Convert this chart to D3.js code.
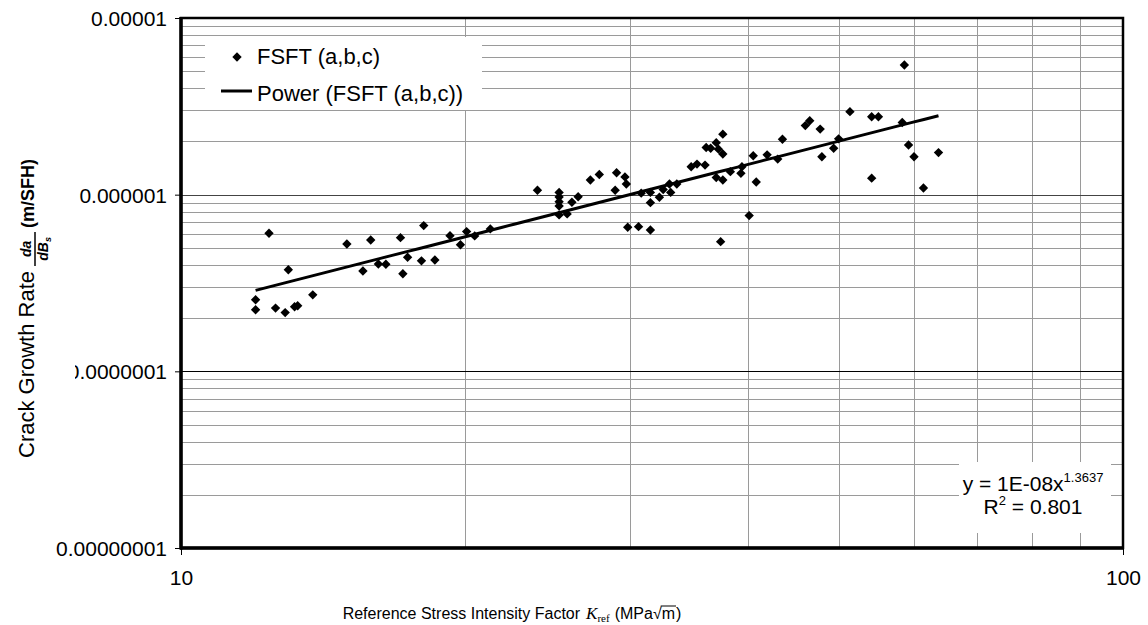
<!DOCTYPE html>
<html>
<head>
<meta charset="utf-8">
<script src="https://cdn.jsdelivr.net/npm/d3@7"></script>
<style>
  html, body { margin: 0; padding: 0; background: #fff; }
  svg { display: block; }
  text { fill: #000; }
</style>
</head>
<body>
<svg id="chart" width="1148" height="625"></svg>
<script>
// --- data ---
const kRef = [12.0, 12.0, 12.4, 12.6, 12.9, 13.0, 13.2, 13.3, 13.8, 15.0,
  15.6, 15.9, 16.2, 16.5, 17.1, 17.2, 17.4, 18.0, 18.1, 18.6,
  19.3, 19.8, 20.1, 20.5, 21.3, 23.9, 25.2, 25.2, 25.2, 25.2,
  25.2, 25.7, 26.0, 26.4, 27.2, 27.8, 28.9, 29.0, 29.6, 29.7,
  29.8, 30.6, 30.8, 31.5, 31.5, 31.5, 32.2, 32.5, 33.0, 33.1,
  33.6, 34.8, 35.3, 36.0, 36.1, 36.5, 37.0, 37.2, 37.6, 37.6,
  37.0, 37.6, 38.3, 37.4, 39.3, 39.4, 40.1, 40.5, 40.8, 41.9,
  43.0, 43.5, 46.0, 46.5, 47.7, 47.9, 49.3, 49.9, 51.3, 54.1,
  54.1, 55.0, 58.3, 58.6, 59.2, 60.0, 61.4, 63.7];
const growthRate = [2.54e-7, 2.23e-7, 6.05e-7, 2.28e-7, 2.15e-7, 3.76e-7, 2.32e-7, 2.35e-7, 2.71e-7, 5.26e-7,
  3.70e-7, 5.54e-7, 4.05e-7, 4.04e-7, 5.71e-7, 3.57e-7, 4.42e-7, 4.22e-7, 6.68e-7, 4.27e-7,
  5.86e-7, 5.21e-7, 6.18e-7, 5.84e-7, 6.40e-7, 1.06e-6, 1.03e-6, 9.70e-7, 9.13e-7, 8.63e-7,
  7.68e-7, 7.78e-7, 9.06e-7, 9.74e-7, 1.21e-6, 1.30e-6, 1.06e-6, 1.33e-6, 1.26e-6, 1.15e-6,
  6.54e-7, 6.59e-7, 1.02e-6, 6.31e-7, 1.03e-6, 9.01e-7, 9.67e-7, 1.07e-6, 1.15e-6, 1.03e-6,
  1.15e-6, 1.44e-6, 1.49e-6, 1.47e-6, 1.85e-6, 1.83e-6, 1.97e-6, 1.81e-6, 2.20e-6, 1.70e-6,
  1.25e-6, 1.21e-6, 1.35e-6, 5.42e-7, 1.32e-6, 1.44e-6, 7.61e-7, 1.66e-6, 1.18e-6, 1.68e-6,
  1.59e-6, 2.06e-6, 2.46e-6, 2.62e-6, 2.35e-6, 1.64e-6, 1.83e-6, 2.07e-6, 2.95e-6, 2.76e-6,
  1.24e-6, 2.76e-6, 2.56e-6, 5.42e-6, 1.91e-6, 1.64e-6, 1.09e-6, 1.73e-6];

// power trendline y = a * x^b (exponent from the chart label)
const trendA = 9.7e-9;
const trendB = 1.3637;

const xTickValues = [10, 100];
const xTickLabels = ["10", "100"];
const yTickValues = [1e-8, 1e-7, 1e-6, 1e-5];
const yTickLabels = ["0.00000001", "0.0000001", "0.000001", "0.00001"];

const seriesName = "FSFT (a,b,c)";
const trendName = "Power (FSFT (a,b,c))";

const SANS = "Arial, 'Liberation Sans', sans-serif";
const SERIF = "'Times New Roman', 'Liberation Serif', serif";

const margin = {top: 18, left: 181};
const W = 942, H = 530;

const svg = d3.select("#chart");
const g = svg.append("g").attr("transform", `translate(${margin.left},${margin.top})`);

const x = d3.scaleLog().domain([10, 100]).range([0, W]);
const y = d3.scaleLog().domain([1e-8, 1e-5]).range([H, 0]);

// gridlines
g.append("g").selectAll("line")
  .data(y.ticks().filter(v => !yTickValues.includes(+v.toPrecision(3))))
  .join("line")
  .attr("x1", 0).attr("x2", W)
  .attr("y1", d => Math.round(y(d)) + 0.5).attr("y2", d => Math.round(y(d)) + 0.5)
  .attr("stroke", "#9a9a9a").attr("stroke-width", 1);
g.append("g").selectAll("line")
  .data(x.ticks().filter(v => v > 10 && v < 100))
  .join("line")
  .attr("y1", 0).attr("y2", H)
  .attr("x1", d => Math.round(x(d)) + 0.5).attr("x2", d => Math.round(x(d)) + 0.5)
  .attr("stroke", "#9a9a9a").attr("stroke-width", 1);
g.append("g").selectAll("line")
  .data(yTickValues.slice(1, -1))
  .join("line")
  .attr("x1", 0).attr("x2", W)
  .attr("y1", d => Math.round(y(d)) + 0.5).attr("y2", d => Math.round(y(d)) + 0.5)
  .attr("stroke", (d, i) => i == 0 ? "#000" : "#444").attr("stroke-width", 1);

// axes
const yAxis = d3.axisLeft(y).tickValues(yTickValues).tickSize(6).tickPadding(8)
  .tickFormat((d, i) => yTickLabels[i]);
const xAxis = d3.axisBottom(x).tickValues(xTickValues).tickSize(7).tickPadding(15)
  .tickFormat((d, i) => xTickLabels[i]);

g.append("g").call(yAxis)
  .call(a => a.select(".domain").remove())
  .call(a => a.selectAll("text").style("font-family", SANS).style("font-size", "21px").attr("dy", "0.35em"));
g.append("g").attr("transform", `translate(0,${H})`).call(xAxis)
  .call(a => a.select(".domain").remove())
  .call(a => a.selectAll("text").style("font-family", SANS).style("font-size", "21px"));

// trendline
const xs = d3.extent(kRef);
const trendPts = d3.range(0, 51).map(i => {
  const kx = xs[0] * Math.pow(xs[1] / xs[0], i / 50);
  return [kx, trendA * Math.pow(kx, trendB)];
});
g.append("path")
  .datum(trendPts)
  .attr("fill", "none").attr("stroke", "#000").attr("stroke-width", 3)
  .attr("d", d3.line().x(d => x(d[0])).y(d => y(d[1])));

// points
const diamond = d3.symbol().type(d3.symbolSquare).size(44);
g.append("g").selectAll("path")
  .data(d3.range(kRef.length))
  .join("path")
  .attr("d", diamond)
  .attr("transform", i => `translate(${x(kRef[i])},${y(growthRate[i])}) rotate(45)`)
  .attr("fill", "#000");

// frame
g.append("rect").attr("x", 0).attr("y", 0).attr("width", W).attr("height", H)
  .attr("fill", "none").attr("stroke", "#000").attr("stroke-width", 2.5);
g.append("line").attr("x1", 0).attr("x2", 0).attr("y1", -1).attr("y2", H + 1.5)
  .attr("stroke", "#000").attr("stroke-width", 3.5);
g.append("line").attr("x1", -1).attr("x2", W + 1).attr("y1", H).attr("y2", H)
  .attr("stroke", "#000").attr("stroke-width", 3.5);

// legend
const leg = svg.append("g");
leg.append("rect").attr("x", 205).attr("y", 37).attr("width", 277).attr("height", 73).attr("fill", "#fff");
leg.append("path").attr("d", diamond).attr("transform", "translate(237,57) rotate(45)").attr("fill", "#000");
leg.append("text").attr("x", 257).attr("y", 64).style("font-family", SANS).style("font-size", "22px").text(seriesName);
leg.append("line").attr("x1", 221).attr("x2", 252).attr("y1", 91).attr("y2", 91).attr("stroke", "#000").attr("stroke-width", 3);
leg.append("text").attr("x", 257).attr("y", 100.5).style("font-family", SANS).style("font-size", "22px").text(trendName);

// trendline equation
const eq = svg.append("g");
eq.append("rect").attr("x", 959).attr("y", 462).attr("width", 152).attr("height", 71).attr("fill", "#fff");
eq.append("text").attr("x", 1033).attr("y", 490.5).attr("text-anchor", "middle")
  .style("font-family", SANS).style("font-size", "21px")
  .call(t => {
    t.append("tspan").text("y = 1E-08x");
    t.append("tspan").attr("dy", -9).style("font-size", "13px").text(trendB.toString());
  });
eq.append("text").attr("x", 1033).attr("y", 513.5).attr("text-anchor", "middle")
  .style("font-family", SANS).style("font-size", "21px")
  .call(t => {
    t.append("tspan").text("R");
    t.append("tspan").attr("dy", -9).style("font-size", "13px").text("2");
    t.append("tspan").attr("dy", 9).text(" = 0.801");
  });

// run of text pieces laid out left to right, returns total width
function runText(parent, pieces) {
  let cx = 0;
  pieces.forEach(p => {
    const t = parent.append("text").attr("x", cx).attr("y", p.dy || 0)
      .style("font-family", p.family || SANS)
      .style("font-size", p.size + "px")
      .style("font-style", p.italic ? "italic" : "normal")
      .style("font-weight", p.bold ? "bold" : "normal")
      .text(p.text);
    p.x = cx;
    p.w = t.node().getComputedTextLength();
    cx += p.w + (p.gap || 0);
  });
  return cx;
}

// x axis title
const xt = svg.append("g");
const xPieces = [
  {text: "Reference Stress Intensity Factor", size: 16, gap: 6},
  {text: "K", size: 17, family: SERIF, italic: true, gap: 0},
  {text: "ref", size: 11, family: SERIF, dy: 3, gap: 5},
  {text: "(MPa", size: 16, gap: 0},
  {text: "\u221A", size: 16, gap: 0},
  {text: "m", size: 16, gap: 1},
  {text: ")", size: 16}
];
const xw = runText(xt, xPieces);
const mp = xPieces[5];
xt.append("line").attr("x1", mp.x - 1).attr("x2", mp.x + mp.w + 1).attr("y1", -13).attr("y2", -13)
  .attr("stroke", "#000").attr("stroke-width", 1);
xt.attr("transform", `translate(${512 - xw / 2},619)`);

// y axis title box (its white background hides part of a tick label, as in the original)
svg.append("rect").attr("x", 8).attr("y", 140).attr("width", 67).attr("height", 318).attr("fill", "#fff");

// y axis title (rotated)
const yt = svg.append("g");
const t1 = yt.append("text").attr("x", 0).attr("y", 0)
  .style("font-family", SANS).style("font-size", "22px").text("Crack Growth Rate");
const l1 = t1.node().getComputedTextLength();
const fx = l1 + 5, fw = 34;
yt.append("text").attr("x", fx + fw / 2).attr("y", -3).attr("text-anchor", "middle")
  .style("font-family", SANS).style("font-size", "14px").style("font-weight", "bold").style("font-style", "italic")
  .text("da");
yt.append("line").attr("x1", fx).attr("x2", fx + fw).attr("y1", 1).attr("y2", 1).attr("stroke", "#000").attr("stroke-width", 1.5);
yt.append("text").attr("x", fx + fw / 2).attr("y", 14).attr("text-anchor", "middle")
  .style("font-family", SANS).style("font-size", "14px").style("font-weight", "bold").style("font-style", "italic")
  .call(t => {
    t.append("tspan").text("dB");
    t.append("tspan").attr("dy", 3).style("font-size", "9px").text("s");
  });
yt.append("text").attr("x", fx + fw + 4).attr("y", 0)
  .style("font-family", SANS).style("font-size", "18px").style("font-weight", "bold").text("(m/SFH)");
yt.attr("transform", "translate(34,458) rotate(-90)");
</script>
</body>
</html>
